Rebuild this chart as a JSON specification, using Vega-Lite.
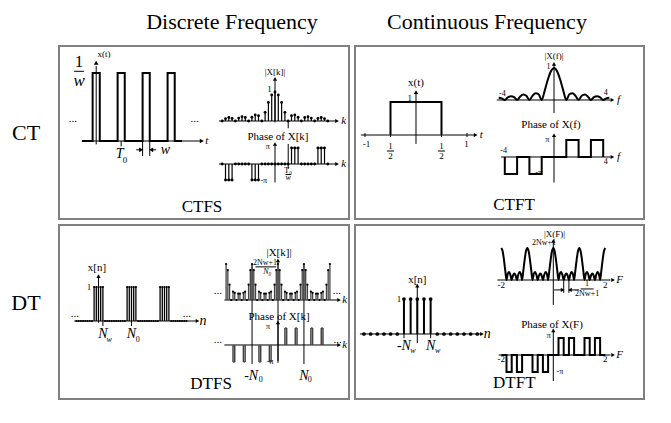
{
"$schema": "https://vega.github.io/schema/vega-lite/v6.json",
"background": "white",
"padding": {"left": 10, "top": 9, "right": 0, "bottom": 0},
"autosize": {"type": "pad"},
"config": {"view": {"stroke": "#808080", "strokeWidth": 2}, "text": {"font": "Liberation Serif"}},
"datasets": {
"A1": [
{"part":"sig","i":0,"t":-2,"val":0},{"part":"sig","i":1,"t":-0.5,"val":0},{"part":"sig","i":2,"t":-0.5,"val":1},{"part":"sig","i":3,"t":0.5,"val":1},{"part":"sig","i":4,"t":0.5,"val":0},{"part":"sig","i":5,"t":3,"val":0},{"part":"sig","i":6,"t":3,"val":1},{"part":"sig","i":7,"t":4,"val":1},{"part":"sig","i":8,"t":4,"val":0},{"part":"sig","i":9,"t":6.5,"val":0},{"part":"sig","i":10,"t":6.5,"val":1},{"part":"sig","i":11,"t":7.5,"val":1},{"part":"sig","i":12,"t":7.5,"val":0},{"part":"sig","i":13,"t":10,"val":0},{"part":"sig","i":14,"t":10,"val":1},{"part":"sig","i":15,"t":11,"val":1},{"part":"sig","i":16,"t":11,"val":0},{"part":"sig","i":17,"t":12,"val":0},
{"part":"seg","t":-2,"t2":14.6,"val":0,"val2":0},
{"part":"seg","t":0,"t2":0,"val":-0.05,"val2":1.1},
{"part":"seg","t":-3.1,"t2":-1.7,"val":1.025,"val2":1.025},
{"part":"seg","t":3.5,"t2":3.5,"val":0,"val2":-0.08},
{"part":"seg","t":6.5,"t2":6.5,"val":0,"val2":-0.22},
{"part":"seg","t":7.5,"t2":7.5,"val":0,"val2":-0.22},
{"part":"seg","t":5.6,"t2":6.3,"val":-0.13,"val2":-0.13},
{"part":"seg","t":7.7,"t2":8.4,"val":-0.13,"val2":-0.13},
{"part":"arrowR","t":14.8,"val":0},{"part":"arrowR","t":6.3,"val":-0.13},{"part":"arrowL","t":7.7,"val":-0.13},{"part":"arrowU","t":0,"val":1.15},
{"part":"txt","t":19.02,"val":1.75,"label":"Discrete Frequency","sty":"head"},
{"part":"txt","t":-9.83,"val":0.118,"label":"CT","sty":"head"},
{"part":"txt","t":-2.4,"val":1.165,"label":"1","sty":"big"},
{"part":"txt","t":-3.25,"val":0.32,"label":"...","sty":"lab"},
{"part":"txt","t":13.8,"val":0.32,"label":"...","sty":"lab"},
{"part":"txt","t":1.1,"val":1.28,"label":"x(t)","sty":"sm"},
{"part":"txt","t":14.82,"val":-0.97,"label":"CTFS","sty":"big"},
{"part":"txt","t":4.05,"val":-0.28,"label":"0","sty":"sm"},
{"part":"itxt","t":-2.4,"val":0.875,"label":"w","sty":"big"},
{"part":"itxt","t":3.3,"val":-0.19,"label":"T","sty":"md"},
{"part":"itxt","t":9.7,"val":-0.13,"label":"w","sty":"md"},
{"part":"itxt","t":15.5,"val":0,"label":"t","sty":"lab"}
],
"A2": [
{"part":"stem","t":-16,"val":0},{"part":"stem","t":-15,"val":0.08},{"part":"stem","t":-14,"val":0.12},{"part":"stem","t":-13,"val":0.09},{"part":"stem","t":-12,"val":0},{"part":"stem","t":-11,"val":0.1},{"part":"stem","t":-10,"val":0.15},{"part":"stem","t":-9,"val":0.12},{"part":"stem","t":-8,"val":0},{"part":"stem","t":-7,"val":0.13},{"part":"stem","t":-6,"val":0.21},{"part":"stem","t":-5,"val":0.18},{"part":"stem","t":-4,"val":0},{"part":"stem","t":-3,"val":0.3},{"part":"stem","t":-2,"val":0.64},{"part":"stem","t":-1,"val":0.9},{"part":"stem","t":0,"val":1},{"part":"stem","t":1,"val":0.9},{"part":"stem","t":2,"val":0.64},{"part":"stem","t":3,"val":0.3},{"part":"stem","t":4,"val":0},{"part":"stem","t":5,"val":0.18},{"part":"stem","t":6,"val":0.21},{"part":"stem","t":7,"val":0.13},{"part":"stem","t":8,"val":0},{"part":"stem","t":9,"val":0.12},{"part":"stem","t":10,"val":0.15},{"part":"stem","t":11,"val":0.1},{"part":"stem","t":12,"val":0},{"part":"stem","t":13,"val":0.09},{"part":"stem","t":14,"val":0.12},{"part":"stem","t":15,"val":0.08},{"part":"stem","t":16,"val":0},
{"part":"seg","t":-17,"t2":18.5,"val":0,"val2":0},
{"part":"seg","t":0,"t2":0,"val":-0.05,"val2":1.4},
{"part":"seg","t":4,"t2":4,"val":0,"val2":-0.25},
{"part":"arrowR","t":18.8,"val":0},{"part":"arrowU","t":0,"val":1.45},
{"part":"txt","t":0,"val":1.68,"label":"|X[k]|","sty":"sm"},
{"part":"txt","t":-1.7,"val":1.1,"label":"1","sty":"sm"},
{"part":"itxt","t":20.8,"val":0,"label":"k","sty":"lab"}
],
"A3": [
{"part":"stem","t":-16,"val":0},{"part":"stem","t":-15,"val":-1},{"part":"stem","t":-14,"val":-1},{"part":"stem","t":-13,"val":-1},{"part":"stem","t":-12,"val":0},{"part":"stem","t":-11,"val":0},{"part":"stem","t":-10,"val":0},{"part":"stem","t":-9,"val":0},{"part":"stem","t":-8,"val":0},{"part":"stem","t":-7,"val":-1},{"part":"stem","t":-6,"val":-1},{"part":"stem","t":-5,"val":-1},{"part":"stem","t":-4,"val":0},{"part":"stem","t":-3,"val":0},{"part":"stem","t":-2,"val":0},{"part":"stem","t":-1,"val":0},{"part":"stem","t":0,"val":0},{"part":"stem","t":1,"val":0},{"part":"stem","t":2,"val":0},{"part":"stem","t":3,"val":0},{"part":"stem","t":4,"val":0},{"part":"stem","t":5,"val":1},{"part":"stem","t":6,"val":1},{"part":"stem","t":7,"val":1},{"part":"stem","t":8,"val":0},{"part":"stem","t":9,"val":0},{"part":"stem","t":10,"val":0},{"part":"stem","t":11,"val":0},{"part":"stem","t":12,"val":0},{"part":"stem","t":13,"val":1},{"part":"stem","t":14,"val":1},{"part":"stem","t":15,"val":1},{"part":"stem","t":16,"val":0},
{"part":"seg","t":-17,"t2":18.5,"val":0,"val2":0},
{"part":"seg","t":0,"t2":0,"val":-1.15,"val2":1.2},
{"part":"seg","t":4,"t2":4,"val":-0.3,"val2":1.25},
{"part":"seg","t":5,"t2":7,"val":1,"val2":1},{"part":"seg","t":13,"t2":15,"val":1,"val2":1},{"part":"seg","t":-7,"t2":-5,"val":-1,"val2":-1},{"part":"seg","t":-15,"t2":-13,"val":-1,"val2":-1},
{"part":"seg","t":3.2,"t2":4.8,"val":-0.66,"val2":-0.66},
{"part":"arrowR","t":18.8,"val":0},{"part":"arrowU","t":0,"val":1.25},
{"part":"txt","t":0.9,"val":1.69,"label":"Phase of X[k]","sty":"lab"},
{"part":"txt","t":-2.2,"val":1.06,"label":"π","sty":"xs"},
{"part":"txt","t":-3.4,"val":-1.06,"label":"-π","sty":"xs"},
{"part":"txt","t":4,"val":-0.42,"label":"T₀","sty":"xs"},
{"part":"itxt","t":4,"val":-0.9,"label":"w","sty":"xs"},
{"part":"itxt","t":20.8,"val":0,"label":"k","sty":"lab"}
],
"B1": [
{"part":"sig","i":0,"t":-0.5,"val":0},{"part":"sig","i":1,"t":-0.5,"val":1},{"part":"sig","i":2,"t":0.5,"val":1},{"part":"sig","i":3,"t":0.5,"val":0},
{"part":"seg","t":-1.08,"t2":1.15,"val":0,"val2":0},
{"part":"seg","t":0,"t2":0,"val":-0.27,"val2":1.28},
{"part":"seg","t":-1,"t2":-1,"val":0.06,"val2":-0.06},{"part":"seg","t":-0.5,"t2":-0.5,"val":0.06,"val2":-0.06},{"part":"seg","t":0.5,"t2":0.5,"val":0.06,"val2":-0.06},{"part":"seg","t":1,"t2":1,"val":0.06,"val2":-0.06},
{"part":"seg","t":-0.57,"t2":-0.43,"val":-0.485,"val2":-0.485},{"part":"seg","t":0.43,"t2":0.57,"val":-0.485,"val2":-0.485},
{"part":"arrowR","t":1.17,"val":0},{"part":"arrowU","t":0,"val":1.3},
{"part":"txt","t":0,"val":1.58,"label":"x(t)","sty":"lab"},
{"part":"txt","t":-0.12,"val":1.12,"label":"1","sty":"sm"},
{"part":"txt","t":-0.97,"val":-0.26,"label":"-1","sty":"sm"},
{"part":"txt","t":0.99,"val":-0.26,"label":"1","sty":"sm"},
{"part":"txt","t":-0.5,"val":-0.33,"label":"1","sty":"sm"},
{"part":"txt","t":-0.5,"val":-0.65,"label":"2","sty":"sm"},
{"part":"txt","t":0.5,"val":-0.33,"label":"1","sty":"sm"},
{"part":"txt","t":0.5,"val":-0.65,"label":"2","sty":"sm"},
{"part":"txt","t":1.392,"val":3.424,"label":"Continuous Frequency","sty":"head"},
{"part":"itxt","t":1.28,"val":0,"label":"t","sty":"lab"}
],
"B2": [
{"part":"crv","t":-4.5,"val":0.07},{"part":"crv","t":-4.25,"val":0.05},{"part":"crv","t":-4,"val":0},{"part":"crv","t":-3.75,"val":0.08},{"part":"crv","t":-3.5,"val":0.12},{"part":"crv","t":-3.25,"val":0.09},{"part":"crv","t":-3,"val":0},{"part":"crv","t":-2.75,"val":0.11},{"part":"crv","t":-2.5,"val":0.17},{"part":"crv","t":-2.25,"val":0.13},{"part":"crv","t":-2,"val":0},{"part":"crv","t":-1.75,"val":0.13},{"part":"crv","t":-1.5,"val":0.21},{"part":"crv","t":-1.25,"val":0.18},{"part":"crv","t":-1,"val":0},{"part":"crv","t":-0.75,"val":0.3},{"part":"crv","t":-0.5,"val":0.64},{"part":"crv","t":-0.25,"val":0.9},{"part":"crv","t":0,"val":1},{"part":"crv","t":0.25,"val":0.9},{"part":"crv","t":0.5,"val":0.64},{"part":"crv","t":0.75,"val":0.3},{"part":"crv","t":1,"val":0},{"part":"crv","t":1.25,"val":0.18},{"part":"crv","t":1.5,"val":0.21},{"part":"crv","t":1.75,"val":0.13},{"part":"crv","t":2,"val":0},{"part":"crv","t":2.25,"val":0.13},{"part":"crv","t":2.5,"val":0.17},{"part":"crv","t":2.75,"val":0.11},{"part":"crv","t":3,"val":0},{"part":"crv","t":3.25,"val":0.09},{"part":"crv","t":3.5,"val":0.12},{"part":"crv","t":3.75,"val":0.08},{"part":"crv","t":4,"val":0},{"part":"crv","t":4.25,"val":0.05},{"part":"crv","t":4.5,"val":0.07},
{"part":"seg","t":-4.65,"t2":4.6,"val":0,"val2":0},
{"part":"seg","t":0,"t2":0,"val":-0.41,"val2":1.1},
{"part":"arrowR","t":4.75,"val":0},{"part":"arrowU","t":0,"val":1.13},
{"part":"txt","t":0,"val":1.375,"label":"|X(f)|","sty":"sm"},
{"part":"txt","t":-0.45,"val":1.04,"label":"1","sty":"xs"},
{"part":"txt","t":-4.2,"val":0.19,"label":"-4","sty":"xs"},
{"part":"txt","t":4.2,"val":0.22,"label":"4","sty":"xs"},
{"part":"itxt","t":5.25,"val":0,"label":"f","sty":"lab"}
],
"B3": [
{"part":"sig","i":0,"t":-4,"val":0},{"part":"sig","i":1,"t":-4,"val":-1},{"part":"sig","i":2,"t":-3,"val":-1},{"part":"sig","i":3,"t":-3,"val":0},{"part":"sig","i":4,"t":-2,"val":0},{"part":"sig","i":5,"t":-2,"val":-1},{"part":"sig","i":6,"t":-1,"val":-1},{"part":"sig","i":7,"t":-1,"val":0},{"part":"sig","i":8,"t":1,"val":0},{"part":"sig","i":9,"t":1,"val":1},{"part":"sig","i":10,"t":2,"val":1},{"part":"sig","i":11,"t":2,"val":0},{"part":"sig","i":12,"t":3,"val":0},{"part":"sig","i":13,"t":3,"val":1},{"part":"sig","i":14,"t":4,"val":1},{"part":"sig","i":15,"t":4,"val":0},
{"part":"seg","t":-4.3,"t2":4.6,"val":0,"val2":0},
{"part":"seg","t":0,"t2":0,"val":-1.5,"val2":1.25},
{"part":"arrowR","t":4.75,"val":0},{"part":"arrowU","t":0,"val":1.28},
{"part":"txt","t":-0.25,"val":1.88,"label":"Phase of X(f)","sty":"lab"},
{"part":"txt","t":-0.55,"val":1.0,"label":"π","sty":"xs"},
{"part":"txt","t":-1.25,"val":-0.97,"label":"-π","sty":"xs"},
{"part":"txt","t":-4.1,"val":0.38,"label":"-4","sty":"xs"},
{"part":"txt","t":4.2,"val":-0.32,"label":"4","sty":"xs"},
{"part":"txt","t":-3.25,"val":-2.82,"label":"CTFT","sty":"big"},
{"part":"itxt","t":5.25,"val":0,"label":"f","sty":"lab"}
],
"C1": [
{"part":"stem","t":-10,"val":0},{"part":"stem","t":-9,"val":0},{"part":"stem","t":-8,"val":0},{"part":"stem","t":-7,"val":0},{"part":"stem","t":-6,"val":0},{"part":"stem","t":-5,"val":0},{"part":"stem","t":-4,"val":0},{"part":"stem","t":-3,"val":0},{"part":"stem","t":-2,"val":1},{"part":"stem","t":-1,"val":1},{"part":"stem","t":0,"val":1},{"part":"stem","t":1,"val":1},{"part":"stem","t":2,"val":1},{"part":"stem","t":3,"val":0},{"part":"stem","t":4,"val":0},{"part":"stem","t":5,"val":0},{"part":"stem","t":6,"val":0},{"part":"stem","t":7,"val":0},{"part":"stem","t":8,"val":0},{"part":"stem","t":9,"val":0},{"part":"stem","t":10,"val":0},{"part":"stem","t":11,"val":0},{"part":"stem","t":12,"val":0},{"part":"stem","t":13,"val":1},{"part":"stem","t":14,"val":1},{"part":"stem","t":15,"val":1},{"part":"stem","t":16,"val":1},{"part":"stem","t":17,"val":1},{"part":"stem","t":18,"val":0},{"part":"stem","t":19,"val":0},{"part":"stem","t":20,"val":0},{"part":"stem","t":21,"val":0},{"part":"stem","t":22,"val":0},{"part":"stem","t":23,"val":0},{"part":"stem","t":24,"val":0},{"part":"stem","t":25,"val":0},{"part":"stem","t":26,"val":0},{"part":"stem","t":27,"val":0},{"part":"stem","t":28,"val":1},{"part":"stem","t":29,"val":1},{"part":"stem","t":30,"val":1},{"part":"stem","t":31,"val":1},{"part":"stem","t":32,"val":1},{"part":"stem","t":33,"val":0},{"part":"stem","t":34,"val":0},{"part":"stem","t":35,"val":0},{"part":"stem","t":36,"val":0},{"part":"stem","t":37,"val":0},{"part":"stem","t":38,"val":0},{"part":"stem","t":39,"val":0},{"part":"stem","t":40,"val":0},
{"part":"seg","t":-11,"t2":44.5,"val":0,"val2":0},
{"part":"seg","t":0,"t2":0,"val":-0.05,"val2":1.3},
{"part":"seg","t":2,"t2":2,"val":0,"val2":-0.15},
{"part":"seg","t":15,"t2":15,"val":0,"val2":-0.15},
{"part":"arrowR","t":45,"val":0},{"part":"arrowU","t":0,"val":1.32},
{"part":"txt","t":-0.7,"val":1.56,"label":"x[n]","sty":"lab"},
{"part":"txt","t":-4.3,"val":1.0,"label":"1","sty":"sm"},
{"part":"txt","t":-10.7,"val":0.2,"label":"...","sty":"lab"},
{"part":"txt","t":40.2,"val":0.2,"label":"...","sty":"lab"},
{"part":"txt","t":-32.95,"val":0.53,"label":"DT","sty":"head"},
{"part":"txt","t":17.8,"val":-0.55,"label":"0","sty":"xs"},
{"part":"itxt","t":4.8,"val":-0.55,"label":"w","sty":"xs"},
{"part":"itxt","t":2,"val":-0.38,"label":"N","sty":"md"},
{"part":"itxt","t":15,"val":-0.38,"label":"N","sty":"md"},
{"part":"itxt","t":47.5,"val":0,"label":"n","sty":"md"}
],
"C2": [
{"part":"stem","t":-30,"val":1},{"part":"stem","t":-29,"val":0.833},{"part":"stem","t":-28,"val":0.426},{"part":"stem","t":-27,"val":0},{"part":"stem","t":-26,"val":0.233},{"part":"stem","t":-25,"val":0.2},{"part":"stem","t":-24,"val":0},{"part":"stem","t":-23,"val":0.174},{"part":"stem","t":-22,"val":0.174},{"part":"stem","t":-21,"val":0},{"part":"stem","t":-20,"val":0.2},{"part":"stem","t":-19,"val":0.233},{"part":"stem","t":-18,"val":0},{"part":"stem","t":-17,"val":0.426},{"part":"stem","t":-16,"val":0.833},{"part":"stem","t":-15,"val":1},{"part":"stem","t":-14,"val":0.833},{"part":"stem","t":-13,"val":0.426},{"part":"stem","t":-12,"val":0},{"part":"stem","t":-11,"val":0.233},{"part":"stem","t":-10,"val":0.2},{"part":"stem","t":-9,"val":0},{"part":"stem","t":-8,"val":0.174},{"part":"stem","t":-7,"val":0.174},{"part":"stem","t":-6,"val":0},{"part":"stem","t":-5,"val":0.2},{"part":"stem","t":-4,"val":0.233},{"part":"stem","t":-3,"val":0},{"part":"stem","t":-2,"val":0.426},{"part":"stem","t":-1,"val":0.833},{"part":"stem","t":0,"val":1},{"part":"stem","t":1,"val":0.833},{"part":"stem","t":2,"val":0.426},{"part":"stem","t":3,"val":0},{"part":"stem","t":4,"val":0.233},{"part":"stem","t":5,"val":0.2},{"part":"stem","t":6,"val":0},{"part":"stem","t":7,"val":0.174},{"part":"stem","t":8,"val":0.174},{"part":"stem","t":9,"val":0},{"part":"stem","t":10,"val":0.2},{"part":"stem","t":11,"val":0.233},{"part":"stem","t":12,"val":0},{"part":"stem","t":13,"val":0.426},{"part":"stem","t":14,"val":0.833},{"part":"stem","t":15,"val":1},{"part":"stem","t":16,"val":0.833},{"part":"stem","t":17,"val":0.426},{"part":"stem","t":18,"val":0},{"part":"stem","t":19,"val":0.233},{"part":"stem","t":20,"val":0.2},{"part":"stem","t":21,"val":0},{"part":"stem","t":22,"val":0.174},{"part":"stem","t":23,"val":0.174},{"part":"stem","t":24,"val":0},{"part":"stem","t":25,"val":0.2},{"part":"stem","t":26,"val":0.233},{"part":"stem","t":27,"val":0},{"part":"stem","t":28,"val":0.426},{"part":"stem","t":29,"val":0.833},{"part":"stem","t":30,"val":1},
{"part":"seg","t":-31,"t2":35,"val":0,"val2":0},
{"part":"seg","t":0,"t2":0,"val":-1.69,"val2":1.08},
{"part":"seg","t":-15,"t2":-15,"val":-1.78,"val2":1.0},
{"part":"seg","t":15,"t2":15,"val":-1.78,"val2":1.0},
{"part":"seg","t":-13,"t2":-1,"val":0.92,"val2":0.92},
{"part":"arrowR","t":35.3,"val":0},{"part":"arrowU","t":0,"val":1.1},
{"part":"txt","t":0.6,"val":1.31,"label":"|X[k]|","sty":"lab"},
{"part":"txt","t":-7.5,"val":1.03,"label":"2Nw+1","sty":"xs"},
{"part":"txt","t":-34.7,"val":0.25,"label":"...","sty":"lab"},
{"part":"txt","t":34.1,"val":0.25,"label":"...","sty":"lab"},
{"part":"itxt","t":-6.2,"val":0.78,"label":"N₀","sty":"xs"},
{"part":"itxt","t":38.5,"val":0,"label":"k","sty":"lab"}
],
"C3": [
{"part":"stem","t":-26,"val":-1},{"part":"stem","t":-25,"val":-1},{"part":"stem","t":-20,"val":-1},{"part":"stem","t":-19,"val":-1},{"part":"stem","t":-11,"val":-1},{"part":"stem","t":-10,"val":-1},{"part":"stem","t":-5,"val":-1},{"part":"stem","t":-4,"val":-1},{"part":"stem","t":4,"val":1},{"part":"stem","t":5,"val":1},{"part":"stem","t":10,"val":1},{"part":"stem","t":11,"val":1},{"part":"stem","t":19,"val":1},{"part":"stem","t":20,"val":1},{"part":"stem","t":25,"val":1},{"part":"stem","t":26,"val":1},
{"part":"seg","t":-31,"t2":35,"val":0,"val2":0},
{"part":"seg","t":0,"t2":0,"val":-1.05,"val2":1.3},
{"part":"seg","t":4,"t2":5,"val":1,"val2":1},{"part":"seg","t":10,"t2":11,"val":1,"val2":1},{"part":"seg","t":19,"t2":20,"val":1,"val2":1},{"part":"seg","t":25,"t2":26,"val":1,"val2":1},
{"part":"seg","t":-5,"t2":-4,"val":-1,"val2":-1},{"part":"seg","t":-11,"t2":-10,"val":-1,"val2":-1},{"part":"seg","t":-20,"t2":-19,"val":-1,"val2":-1},{"part":"seg","t":-26,"t2":-25,"val":-1,"val2":-1},
{"part":"arrowR","t":35.3,"val":0},{"part":"arrowU","t":0,"val":1.33},
{"part":"txt","t":0.6,"val":1.65,"label":"Phase of X[k]","sty":"lab"},
{"part":"txt","t":-5.8,"val":1.06,"label":"π","sty":"xs"},
{"part":"txt","t":-4.5,"val":-1.0,"label":"-π","sty":"xs"},
{"part":"txt","t":-34.7,"val":0.3,"label":"...","sty":"lab"},
{"part":"txt","t":34.5,"val":0.3,"label":"...","sty":"lab"},
{"part":"txt","t":-38.7,"val":-2.29,"label":"DTFS","sty":"big"},
{"part":"txt","t":-9.9,"val":-2.05,"label":"0","sty":"xs"},
{"part":"txt","t":18.3,"val":-2.05,"label":"0","sty":"xs"},
{"part":"itxt","t":-15.5,"val":-1.8,"label":"-N","sty":"md"},
{"part":"itxt","t":15,"val":-1.8,"label":"N","sty":"md"},
{"part":"itxt","t":38.5,"val":0,"label":"k","sty":"lab"}
],
"D1": [
{"part":"stem","t":-8,"val":0},{"part":"stem","t":-7,"val":0},{"part":"stem","t":-6,"val":0},{"part":"stem","t":-5,"val":0},{"part":"stem","t":-4,"val":0},{"part":"stem","t":-3,"val":0},{"part":"stem","t":-2,"val":1},{"part":"stem","t":-1,"val":1},{"part":"stem","t":0,"val":1},{"part":"stem","t":1,"val":1},{"part":"stem","t":2,"val":1},{"part":"stem","t":3,"val":0},{"part":"stem","t":4,"val":0},{"part":"stem","t":5,"val":0},{"part":"stem","t":6,"val":0},{"part":"stem","t":7,"val":0},{"part":"stem","t":8,"val":0},{"part":"stem","t":9,"val":0},
{"part":"seg","t":-8.6,"t2":9.5,"val":0,"val2":0},
{"part":"seg","t":0,"t2":0,"val":-0.26,"val2":1.35},
{"part":"seg","t":-2,"t2":-2,"val":0,"val2":-0.12},
{"part":"seg","t":2,"t2":2,"val":0,"val2":-0.12},
{"part":"arrowR","t":9.7,"val":0},{"part":"arrowU","t":0,"val":1.38},
{"part":"txt","t":0,"val":1.54,"label":"x[n]","sty":"lab"},
{"part":"txt","t":-2.75,"val":1.0,"label":"1","sty":"sm"},
{"part":"itxt","t":10.5,"val":0,"label":"n","sty":"md"},
{"part":"itxt","t":-2.0,"val":-0.34,"label":"-N","sty":"md"},
{"part":"itxt","t":-0.65,"val":-0.48,"label":"w","sty":"xs"},
{"part":"itxt","t":2.0,"val":-0.34,"label":"N","sty":"md"},
{"part":"itxt","t":3.05,"val":-0.48,"label":"w","sty":"xs"}
],
"D2": [
{"part":"crv","t":-2,"val":1},{"part":"crv","t":-1.95,"val":0.904},{"part":"crv","t":-1.9,"val":0.647},{"part":"crv","t":-1.85,"val":0.3115},{"part":"crv","t":-1.8,"val":0},{"part":"crv","t":-1.75,"val":0.2},{"part":"crv","t":-1.7,"val":0.247},{"part":"crv","t":-1.65,"val":0.1587},{"part":"crv","t":-1.6,"val":0},{"part":"crv","t":-1.55,"val":0.1432},{"part":"crv","t":-1.5,"val":0.2},{"part":"crv","t":-1.45,"val":0.1432},{"part":"crv","t":-1.4,"val":0},{"part":"crv","t":-1.35,"val":0.1587},{"part":"crv","t":-1.3,"val":0.247},{"part":"crv","t":-1.25,"val":0.2},{"part":"crv","t":-1.2,"val":0},{"part":"crv","t":-1.15,"val":0.3115},{"part":"crv","t":-1.1,"val":0.647},{"part":"crv","t":-1.05,"val":0.904},
{"part":"crv","t":-1,"val":1},{"part":"crv","t":-0.95,"val":0.904},{"part":"crv","t":-0.9,"val":0.647},{"part":"crv","t":-0.85,"val":0.3115},{"part":"crv","t":-0.8,"val":0},{"part":"crv","t":-0.75,"val":0.2},{"part":"crv","t":-0.7,"val":0.247},{"part":"crv","t":-0.65,"val":0.1587},{"part":"crv","t":-0.6,"val":0},{"part":"crv","t":-0.55,"val":0.1432},{"part":"crv","t":-0.5,"val":0.2},{"part":"crv","t":-0.45,"val":0.1432},{"part":"crv","t":-0.4,"val":0},{"part":"crv","t":-0.35,"val":0.1587},{"part":"crv","t":-0.3,"val":0.247},{"part":"crv","t":-0.25,"val":0.2},{"part":"crv","t":-0.2,"val":0},{"part":"crv","t":-0.15,"val":0.3115},{"part":"crv","t":-0.1,"val":0.647},{"part":"crv","t":-0.05,"val":0.904},
{"part":"crv","t":0,"val":1},{"part":"crv","t":0.05,"val":0.904},{"part":"crv","t":0.1,"val":0.647},{"part":"crv","t":0.15,"val":0.3115},{"part":"crv","t":0.2,"val":0},{"part":"crv","t":0.25,"val":0.2},{"part":"crv","t":0.3,"val":0.247},{"part":"crv","t":0.35,"val":0.1587},{"part":"crv","t":0.4,"val":0},{"part":"crv","t":0.45,"val":0.1432},{"part":"crv","t":0.5,"val":0.2},{"part":"crv","t":0.55,"val":0.1432},{"part":"crv","t":0.6,"val":0},{"part":"crv","t":0.65,"val":0.1587},{"part":"crv","t":0.7,"val":0.247},{"part":"crv","t":0.75,"val":0.2},{"part":"crv","t":0.8,"val":0},{"part":"crv","t":0.85,"val":0.3115},{"part":"crv","t":0.9,"val":0.647},{"part":"crv","t":0.95,"val":0.904},
{"part":"crv","t":1,"val":1},{"part":"crv","t":1.05,"val":0.904},{"part":"crv","t":1.1,"val":0.647},{"part":"crv","t":1.15,"val":0.3115},{"part":"crv","t":1.2,"val":0},{"part":"crv","t":1.25,"val":0.2},{"part":"crv","t":1.3,"val":0.247},{"part":"crv","t":1.35,"val":0.1587},{"part":"crv","t":1.4,"val":0},{"part":"crv","t":1.45,"val":0.1432},{"part":"crv","t":1.5,"val":0.2},{"part":"crv","t":1.55,"val":0.1432},{"part":"crv","t":1.6,"val":0},{"part":"crv","t":1.65,"val":0.1587},{"part":"crv","t":1.7,"val":0.247},{"part":"crv","t":1.75,"val":0.2},{"part":"crv","t":1.8,"val":0},{"part":"crv","t":1.85,"val":0.3115},{"part":"crv","t":1.9,"val":0.647},{"part":"crv","t":1.95,"val":0.904},{"part":"crv","t":2,"val":1},
{"part":"seg","t":-2.15,"t2":2.2,"val":0,"val2":0},
{"part":"seg","t":0,"t2":0,"val":-0.78,"val2":1.18},
{"part":"seg","t":0.4,"t2":0.4,"val":0,"val2":-0.4},
{"part":"seg","t":0.6,"t2":0.6,"val":0,"val2":-0.4},
{"part":"seg","t":0.03,"t2":0.36,"val":-0.31,"val2":-0.31},
{"part":"seg","t":0.64,"t2":0.99,"val":-0.31,"val2":-0.31},
{"part":"seg","t":1.05,"t2":1.55,"val":-0.28,"val2":-0.28},
{"part":"arrowR","t":2.3,"val":0},{"part":"arrowR","t":0.36,"val":-0.31},{"part":"arrowL","t":0.64,"val":-0.31},{"part":"arrowU","t":0,"val":1.22},
{"part":"txt","t":0.05,"val":1.44,"label":"|X(F)|","sty":"sm"},
{"part":"txt","t":-0.36,"val":1.16,"label":"2Nw+1","sty":"xs"},
{"part":"txt","t":-2.0,"val":-0.16,"label":"-2","sty":"sm"},
{"part":"txt","t":2.0,"val":-0.16,"label":"2","sty":"sm"},
{"part":"txt","t":1.3,"val":-0.14,"label":"1","sty":"xs"},
{"part":"txt","t":1.3,"val":-0.43,"label":"2Nw+1","sty":"xs"},
{"part":"itxt","t":2.55,"val":0,"label":"F","sty":"lab"}
],
"D3": [
{"part":"sig","i":0,"t":-2,"val":0},{"part":"sig","i":1,"t":-1.8,"val":0},{"part":"sig","i":2,"t":-1.8,"val":-1},{"part":"sig","i":3,"t":-1.6,"val":-1},{"part":"sig","i":4,"t":-1.6,"val":0},{"part":"sig","i":5,"t":-1.4,"val":0},{"part":"sig","i":6,"t":-1.4,"val":-1},{"part":"sig","i":7,"t":-1.2,"val":-1},{"part":"sig","i":8,"t":-1.2,"val":0},{"part":"sig","i":9,"t":-0.8,"val":0},{"part":"sig","i":10,"t":-0.8,"val":-1},{"part":"sig","i":11,"t":-0.6,"val":-1},{"part":"sig","i":12,"t":-0.6,"val":0},{"part":"sig","i":13,"t":-0.4,"val":0},{"part":"sig","i":14,"t":-0.4,"val":-1},{"part":"sig","i":15,"t":-0.2,"val":-1},{"part":"sig","i":16,"t":-0.2,"val":0},{"part":"sig","i":17,"t":0.2,"val":0},{"part":"sig","i":18,"t":0.2,"val":1},{"part":"sig","i":19,"t":0.4,"val":1},{"part":"sig","i":20,"t":0.4,"val":0},{"part":"sig","i":21,"t":0.6,"val":0},{"part":"sig","i":22,"t":0.6,"val":1},{"part":"sig","i":23,"t":0.8,"val":1},{"part":"sig","i":24,"t":0.8,"val":0},{"part":"sig","i":25,"t":1.2,"val":0},{"part":"sig","i":26,"t":1.2,"val":1},{"part":"sig","i":27,"t":1.4,"val":1},{"part":"sig","i":28,"t":1.4,"val":0},{"part":"sig","i":29,"t":1.6,"val":0},{"part":"sig","i":30,"t":1.6,"val":1},{"part":"sig","i":31,"t":1.8,"val":1},{"part":"sig","i":32,"t":1.8,"val":0},{"part":"sig","i":33,"t":2,"val":0},
{"part":"seg","t":-2.1,"t2":2.2,"val":0,"val2":0},
{"part":"seg","t":0,"t2":0,"val":-1.53,"val2":1.4},
{"part":"arrowR","t":2.3,"val":0},{"part":"arrowU","t":0,"val":1.45},
{"part":"txt","t":-0.05,"val":1.76,"label":"Phase of X(F)","sty":"lab"},
{"part":"txt","t":-0.17,"val":1.12,"label":"π","sty":"xs"},
{"part":"txt","t":0.25,"val":-1.0,"label":"-π","sty":"xs"},
{"part":"txt","t":-2.0,"val":-0.26,"label":"-2","sty":"sm"},
{"part":"txt","t":2.0,"val":-0.26,"label":"2","sty":"sm"},
{"part":"txt","t":-1.5,"val":-1.65,"label":"DTFT","sty":"big"},
{"part":"itxt","t":2.55,"val":0,"label":"F","sty":"lab"}
]
},
"vconcat": [
{"hconcat": [
{"width": 290, "height": 173, "resolve": {"scale": {"x": "independent", "y": "independent"}}, "layer": [
{"data": {"name": "A1"},
"encoding": {"x": {"field": "t", "type": "quantitative", "scale": {"domain": [-5.21, 35.41], "nice": false, "zero": false}, "axis": null},
"y": {"field": "val", "type": "quantitative", "scale": {"domain": [-1.147, 1.397], "nice": false, "zero": false}, "axis": null}},
"layer": [
{"transform": [{"filter": "datum.part==='seg'"}], "mark": {"type": "rule", "color": "black", "strokeWidth": 1}, "encoding": {"x2": {"field": "t2"}, "y2": {"field": "val2"}}},
{"transform": [{"filter": "datum.part==='sig'"}], "mark": {"type": "line", "color": "black", "strokeWidth": 2}, "encoding": {"order": {"field": "i", "type": "quantitative"}}},
{"transform": [{"filter": "datum.part==='arrowR'||datum.part==='arrowL'||datum.part==='arrowU'"}], "mark": {"type": "point", "filled": true, "color": "black", "opacity": 1, "size": 22}, "encoding": {"shape": {"field": "part", "type": "nominal", "scale": {"domain": ["arrowR", "arrowL", "arrowU"], "range": ["triangle-right", "triangle-left", "triangle-up"]}, "legend": null}}},
{"transform": [{"filter": "datum.part==='txt'"}], "mark": {"type": "text", "font": "Liberation Serif", "color": "black"}, "encoding": {"text": {"field": "label"}, "size": {"field": "sty", "type": "nominal", "scale": {"type": "ordinal", "domain": ["xs", "sm", "lab", "md", "big", "head"], "range": [8, 9, 11, 14, 17, 22]}, "legend": null}}},
{"transform": [{"filter": "datum.part==='itxt'"}], "mark": {"type": "text", "font": "Liberation Serif", "fontStyle": "italic", "color": "black"}, "encoding": {"text": {"field": "label"}, "size": {"field": "sty", "type": "nominal", "scale": {"type": "ordinal", "domain": ["xs", "sm", "lab", "md", "big", "head"], "range": [8, 9, 11, 14, 17, 22]}, "legend": null}}}
]},
{"data": {"name": "A2"},
"encoding": {"x": {"field": "t", "type": "quantitative", "scale": {"domain": [-65.45, 22.42], "nice": false, "zero": false}, "axis": null},
"y": {"field": "val", "type": "quantitative", "scale": {"domain": [-3.379, 2.586], "nice": false, "zero": false}, "axis": null}},
"layer": [
{"transform": [{"filter": "datum.part==='seg'"}], "mark": {"type": "rule", "color": "black", "strokeWidth": 1}, "encoding": {"x2": {"field": "t2"}, "y2": {"field": "val2"}}},
{"transform": [{"filter": "datum.part==='stem'"}], "mark": {"type": "rule", "color": "black", "strokeWidth": 1.2}, "encoding": {"y2": {"datum": 0}}},
{"transform": [{"filter": "datum.part==='stem'"}], "mark": {"type": "point", "filled": true, "color": "black", "opacity": 1, "size": 8}},
{"transform": [{"filter": "datum.part==='arrowR'||datum.part==='arrowL'||datum.part==='arrowU'"}], "mark": {"type": "point", "filled": true, "color": "black", "opacity": 1, "size": 18}, "encoding": {"shape": {"field": "part", "type": "nominal", "scale": {"domain": ["arrowR", "arrowL", "arrowU"], "range": ["triangle-right", "triangle-left", "triangle-up"]}, "legend": null}}},
{"transform": [{"filter": "datum.part==='txt'"}], "mark": {"type": "text", "font": "Liberation Serif", "color": "black"}, "encoding": {"text": {"field": "label"}, "size": {"field": "sty", "type": "nominal", "scale": {"type": "ordinal", "domain": ["xs", "sm", "lab", "md", "big", "head"], "range": [8, 9, 11, 14, 17, 22]}, "legend": null}}},
{"transform": [{"filter": "datum.part==='itxt'"}], "mark": {"type": "text", "font": "Liberation Serif", "fontStyle": "italic", "color": "black"}, "encoding": {"text": {"field": "label"}, "size": {"field": "sty", "type": "nominal", "scale": {"type": "ordinal", "domain": ["xs", "sm", "lab", "md", "big", "head"], "range": [8, 9, 11, 14, 17, 22]}, "legend": null}}}
]},
{"data": {"name": "A3"},
"encoding": {"x": {"field": "t", "type": "quantitative", "scale": {"domain": [-65.45, 22.42], "nice": false, "zero": false}, "axis": null},
"y": {"field": "val", "type": "quantitative", "scale": {"domain": [-3.4375, 7.375], "nice": false, "zero": false}, "axis": null}},
"layer": [
{"transform": [{"filter": "datum.part==='seg'"}], "mark": {"type": "rule", "color": "black", "strokeWidth": 1}, "encoding": {"x2": {"field": "t2"}, "y2": {"field": "val2"}}},
{"transform": [{"filter": "datum.part==='stem'"}], "mark": {"type": "rule", "color": "black", "strokeWidth": 1.2}, "encoding": {"y2": {"datum": 0}}},
{"transform": [{"filter": "datum.part==='stem'"}], "mark": {"type": "point", "filled": true, "color": "black", "opacity": 1, "size": 8}},
{"transform": [{"filter": "datum.part==='arrowR'||datum.part==='arrowL'||datum.part==='arrowU'"}], "mark": {"type": "point", "filled": true, "color": "black", "opacity": 1, "size": 18}, "encoding": {"shape": {"field": "part", "type": "nominal", "scale": {"domain": ["arrowR", "arrowL", "arrowU"], "range": ["triangle-right", "triangle-left", "triangle-up"]}, "legend": null}}},
{"transform": [{"filter": "datum.part==='txt'"}], "mark": {"type": "text", "font": "Liberation Serif", "color": "black"}, "encoding": {"text": {"field": "label"}, "size": {"field": "sty", "type": "nominal", "scale": {"type": "ordinal", "domain": ["xs", "sm", "lab", "md", "big", "head"], "range": [8, 9, 11, 14, 17, 22]}, "legend": null}}},
{"transform": [{"filter": "datum.part==='itxt'"}], "mark": {"type": "text", "font": "Liberation Serif", "fontStyle": "italic", "color": "black"}, "encoding": {"text": {"field": "label"}, "size": {"field": "sty", "type": "nominal", "scale": {"type": "ordinal", "domain": ["xs", "sm", "lab", "md", "big", "head"], "range": [8, 9, 11, 14, 17, 22]}, "legend": null}}}
]}
]},
{"width": 289, "height": 173, "resolve": {"scale": {"x": "independent", "y": "independent"}}, "layer": [
{"data": {"name": "B1"},
"encoding": {"x": {"field": "t", "type": "quantitative", "scale": {"domain": [-1.196, 4.471], "nice": false, "zero": false}, "axis": null},
"y": {"field": "val", "type": "quantitative", "scale": {"domain": [-2.545, 2.697], "nice": false, "zero": false}, "axis": null}},
"layer": [
{"transform": [{"filter": "datum.part==='seg'"}], "mark": {"type": "rule", "color": "black", "strokeWidth": 1}, "encoding": {"x2": {"field": "t2"}, "y2": {"field": "val2"}}},
{"transform": [{"filter": "datum.part==='sig'"}], "mark": {"type": "line", "color": "black", "strokeWidth": 2}, "encoding": {"order": {"field": "i", "type": "quantitative"}}},
{"transform": [{"filter": "datum.part==='arrowR'||datum.part==='arrowL'||datum.part==='arrowU'"}], "mark": {"type": "point", "filled": true, "color": "black", "opacity": 1, "size": 18}, "encoding": {"shape": {"field": "part", "type": "nominal", "scale": {"domain": ["arrowR", "arrowL", "arrowU"], "range": ["triangle-right", "triangle-left", "triangle-up"]}, "legend": null}}},
{"transform": [{"filter": "datum.part==='txt'"}], "mark": {"type": "text", "font": "Liberation Serif", "color": "black"}, "encoding": {"text": {"field": "label"}, "size": {"field": "sty", "type": "nominal", "scale": {"type": "ordinal", "domain": ["xs", "sm", "lab", "md", "big", "head"], "range": [8, 9, 11, 14, 17, 22]}, "legend": null}}},
{"transform": [{"filter": "datum.part==='itxt'"}], "mark": {"type": "text", "font": "Liberation Serif", "fontStyle": "italic", "color": "black"}, "encoding": {"text": {"field": "label"}, "size": {"field": "sty", "type": "nominal", "scale": {"type": "ordinal", "domain": ["xs", "sm", "lab", "md", "big", "head"], "range": [8, 9, 11, 14, 17, 22]}, "legend": null}}}
]},
{"data": {"name": "B2"},
"encoding": {"x": {"field": "t", "type": "quantitative", "scale": {"domain": [-16.18, 7.317], "nice": false, "zero": false}, "axis": null},
"y": {"field": "val", "type": "quantitative", "scale": {"domain": [-3.719, 1.6875], "nice": false, "zero": false}, "axis": null}},
"layer": [
{"transform": [{"filter": "datum.part==='seg'"}], "mark": {"type": "rule", "color": "black", "strokeWidth": 1}, "encoding": {"x2": {"field": "t2"}, "y2": {"field": "val2"}}},
{"transform": [{"filter": "datum.part==='crv'"}], "mark": {"type": "line", "color": "black", "strokeWidth": 2, "interpolate": "monotone"}},
{"transform": [{"filter": "datum.part==='arrowR'||datum.part==='arrowL'||datum.part==='arrowU'"}], "mark": {"type": "point", "filled": true, "color": "black", "opacity": 1, "size": 18}, "encoding": {"shape": {"field": "part", "type": "nominal", "scale": {"domain": ["arrowR", "arrowL", "arrowU"], "range": ["triangle-right", "triangle-left", "triangle-up"]}, "legend": null}}},
{"transform": [{"filter": "datum.part==='txt'"}], "mark": {"type": "text", "font": "Liberation Serif", "color": "black"}, "encoding": {"text": {"field": "label"}, "size": {"field": "sty", "type": "nominal", "scale": {"type": "ordinal", "domain": ["xs", "sm", "lab", "md", "big", "head"], "range": [8, 9, 11, 14, 17, 22]}, "legend": null}}},
{"transform": [{"filter": "datum.part==='itxt'"}], "mark": {"type": "text", "font": "Liberation Serif", "fontStyle": "italic", "color": "black"}, "encoding": {"text": {"field": "label"}, "size": {"field": "sty", "type": "nominal", "scale": {"type": "ordinal", "domain": ["xs", "sm", "lab", "md", "big", "head"], "range": [8, 9, 11, 14, 17, 22]}, "legend": null}}}
]},
{"data": {"name": "B3"},
"encoding": {"x": {"field": "t", "type": "quantitative", "scale": {"domain": [-16.18, 7.317], "nice": false, "zero": false}, "axis": null},
"y": {"field": "val", "type": "quantitative", "scale": {"domain": [-3.647, 6.529], "nice": false, "zero": false}, "axis": null}},
"layer": [
{"transform": [{"filter": "datum.part==='seg'"}], "mark": {"type": "rule", "color": "black", "strokeWidth": 1}, "encoding": {"x2": {"field": "t2"}, "y2": {"field": "val2"}}},
{"transform": [{"filter": "datum.part==='sig'"}], "mark": {"type": "line", "color": "black", "strokeWidth": 2}, "encoding": {"order": {"field": "i", "type": "quantitative"}}},
{"transform": [{"filter": "datum.part==='arrowR'||datum.part==='arrowL'||datum.part==='arrowU'"}], "mark": {"type": "point", "filled": true, "color": "black", "opacity": 1, "size": 18}, "encoding": {"shape": {"field": "part", "type": "nominal", "scale": {"domain": ["arrowR", "arrowL", "arrowU"], "range": ["triangle-right", "triangle-left", "triangle-up"]}, "legend": null}}},
{"transform": [{"filter": "datum.part==='txt'"}], "mark": {"type": "text", "font": "Liberation Serif", "color": "black"}, "encoding": {"text": {"field": "label"}, "size": {"field": "sty", "type": "nominal", "scale": {"type": "ordinal", "domain": ["xs", "sm", "lab", "md", "big", "head"], "range": [8, 9, 11, 14, 17, 22]}, "legend": null}}},
{"transform": [{"filter": "datum.part==='itxt'"}], "mark": {"type": "text", "font": "Liberation Serif", "fontStyle": "italic", "color": "black"}, "encoding": {"text": {"field": "label"}, "size": {"field": "sty", "type": "nominal", "scale": {"type": "ordinal", "domain": ["xs", "sm", "lab", "md", "big", "head"], "range": [8, 9, 11, 14, 17, 22]}, "legend": null}}}
]}
]}
], "spacing": 4},
{"hconcat": [
{"width": 290, "height": 174, "resolve": {"scale": {"x": "independent", "y": "independent"}}, "layer": [
{"data": {"name": "C1"},
"encoding": {"x": {"field": "t", "type": "quantitative", "scale": {"domain": [-17.95, 113.86], "nice": false, "zero": false}, "axis": null},
"y": {"field": "val", "type": "quantitative", "scale": {"domain": [-2.294, 2.8235], "nice": false, "zero": false}, "axis": null}},
"layer": [
{"transform": [{"filter": "datum.part==='seg'"}], "mark": {"type": "rule", "color": "black", "strokeWidth": 1}, "encoding": {"x2": {"field": "t2"}, "y2": {"field": "val2"}}},
{"transform": [{"filter": "datum.part==='stem'"}], "mark": {"type": "rule", "color": "black", "strokeWidth": 1.3}, "encoding": {"y2": {"datum": 0}}},
{"transform": [{"filter": "datum.part==='stem'"}], "mark": {"type": "point", "filled": true, "color": "black", "opacity": 1, "size": 5}},
{"transform": [{"filter": "datum.part==='arrowR'||datum.part==='arrowL'||datum.part==='arrowU'"}], "mark": {"type": "point", "filled": true, "color": "black", "opacity": 1, "size": 18}, "encoding": {"shape": {"field": "part", "type": "nominal", "scale": {"domain": ["arrowR", "arrowL", "arrowU"], "range": ["triangle-right", "triangle-left", "triangle-up"]}, "legend": null}}},
{"transform": [{"filter": "datum.part==='txt'"}], "mark": {"type": "text", "font": "Liberation Serif", "color": "black"}, "encoding": {"text": {"field": "label"}, "size": {"field": "sty", "type": "nominal", "scale": {"type": "ordinal", "domain": ["xs", "sm", "lab", "md", "big", "head"], "range": [8, 9, 11, 14, 17, 22]}, "legend": null}}},
{"transform": [{"filter": "datum.part==='itxt'"}], "mark": {"type": "text", "font": "Liberation Serif", "fontStyle": "italic", "color": "black"}, "encoding": {"text": {"field": "label"}, "size": {"field": "sty", "type": "nominal", "scale": {"type": "ordinal", "domain": ["xs", "sm", "lab", "md", "big", "head"], "range": [8, 9, 11, 14, 17, 22]}, "legend": null}}}
]},
{"data": {"name": "C2"},
"encoding": {"x": {"field": "t", "type": "quantitative", "scale": {"domain": [-126.59, 41.04], "nice": false, "zero": false}, "axis": null},
"y": {"field": "val", "type": "quantitative", "scale": {"domain": [-2.75, 2.0833], "nice": false, "zero": false}, "axis": null}},
"layer": [
{"transform": [{"filter": "datum.part==='seg'"}], "mark": {"type": "rule", "color": "black", "strokeWidth": 1}, "encoding": {"x2": {"field": "t2"}, "y2": {"field": "val2"}}},
{"transform": [{"filter": "datum.part==='stem'"}], "mark": {"type": "rule", "color": "#444", "strokeWidth": 1.3}, "encoding": {"y2": {"datum": 0}}},
{"transform": [{"filter": "datum.part==='stem'"}], "mark": {"type": "point", "filled": true, "color": "black", "opacity": 1, "size": 5}},
{"transform": [{"filter": "datum.part==='arrowR'||datum.part==='arrowL'||datum.part==='arrowU'"}], "mark": {"type": "point", "filled": true, "color": "black", "opacity": 1, "size": 18}, "encoding": {"shape": {"field": "part", "type": "nominal", "scale": {"domain": ["arrowR", "arrowL", "arrowU"], "range": ["triangle-right", "triangle-left", "triangle-up"]}, "legend": null}}},
{"transform": [{"filter": "datum.part==='txt'"}], "mark": {"type": "text", "font": "Liberation Serif", "color": "black"}, "encoding": {"text": {"field": "label"}, "size": {"field": "sty", "type": "nominal", "scale": {"type": "ordinal", "domain": ["xs", "sm", "lab", "md", "big", "head"], "range": [8, 9, 11, 14, 17, 22]}, "legend": null}}},
{"transform": [{"filter": "datum.part==='itxt'"}], "mark": {"type": "text", "font": "Liberation Serif", "fontStyle": "italic", "color": "black"}, "encoding": {"text": {"field": "label"}, "size": {"field": "sty", "type": "nominal", "scale": {"type": "ordinal", "domain": ["xs", "sm", "lab", "md", "big", "head"], "range": [8, 9, 11, 14, 17, 22]}, "legend": null}}}
]},
{"data": {"name": "C3"},
"encoding": {"x": {"field": "t", "type": "quantitative", "scale": {"domain": [-126.59, 41.04], "nice": false, "zero": false}, "axis": null},
"y": {"field": "val", "type": "quantitative", "scale": {"domain": [-3.1765, 7.0588], "nice": false, "zero": false}, "axis": null}},
"layer": [
{"transform": [{"filter": "datum.part==='seg'"}], "mark": {"type": "rule", "color": "black", "strokeWidth": 1}, "encoding": {"x2": {"field": "t2"}, "y2": {"field": "val2"}}},
{"transform": [{"filter": "datum.part==='stem'"}], "mark": {"type": "rule", "color": "#444", "strokeWidth": 1.5}, "encoding": {"y2": {"datum": 0}}},
{"transform": [{"filter": "datum.part==='arrowR'||datum.part==='arrowL'||datum.part==='arrowU'"}], "mark": {"type": "point", "filled": true, "color": "black", "opacity": 1, "size": 18}, "encoding": {"shape": {"field": "part", "type": "nominal", "scale": {"domain": ["arrowR", "arrowL", "arrowU"], "range": ["triangle-right", "triangle-left", "triangle-up"]}, "legend": null}}},
{"transform": [{"filter": "datum.part==='txt'"}], "mark": {"type": "text", "font": "Liberation Serif", "color": "black"}, "encoding": {"text": {"field": "label"}, "size": {"field": "sty", "type": "nominal", "scale": {"type": "ordinal", "domain": ["xs", "sm", "lab", "md", "big", "head"], "range": [8, 9, 11, 14, 17, 22]}, "legend": null}}},
{"transform": [{"filter": "datum.part==='itxt'"}], "mark": {"type": "text", "font": "Liberation Serif", "fontStyle": "italic", "color": "black"}, "encoding": {"text": {"field": "label"}, "size": {"field": "sty", "type": "nominal", "scale": {"type": "ordinal", "domain": ["xs", "sm", "lab", "md", "big", "head"], "range": [8, 9, 11, 14, 17, 22]}, "legend": null}}}
]}
]},
{"width": 289, "height": 174, "resolve": {"scale": {"x": "independent", "y": "independent"}}, "layer": [
{"data": {"name": "D1"},
"encoding": {"x": {"field": "t", "type": "quantitative", "scale": {"domain": [-9.34, 33.99], "nice": false, "zero": false}, "axis": null},
"y": {"field": "val", "type": "quantitative", "scale": {"domain": [-1.857, 3.114], "nice": false, "zero": false}, "axis": null}},
"layer": [
{"transform": [{"filter": "datum.part==='seg'"}], "mark": {"type": "rule", "color": "black", "strokeWidth": 1}, "encoding": {"x2": {"field": "t2"}, "y2": {"field": "val2"}}},
{"transform": [{"filter": "datum.part==='stem'"}], "mark": {"type": "rule", "color": "black", "strokeWidth": 2}, "encoding": {"y2": {"datum": 0}}},
{"transform": [{"filter": "datum.part==='stem'"}], "mark": {"type": "point", "filled": true, "color": "black", "opacity": 1, "size": 14}},
{"transform": [{"filter": "datum.part==='arrowR'||datum.part==='arrowL'||datum.part==='arrowU'"}], "mark": {"type": "point", "filled": true, "color": "black", "opacity": 1, "size": 18}, "encoding": {"shape": {"field": "part", "type": "nominal", "scale": {"domain": ["arrowR", "arrowL", "arrowU"], "range": ["triangle-right", "triangle-left", "triangle-up"]}, "legend": null}}},
{"transform": [{"filter": "datum.part==='txt'"}], "mark": {"type": "text", "font": "Liberation Serif", "color": "black"}, "encoding": {"text": {"field": "label"}, "size": {"field": "sty", "type": "nominal", "scale": {"type": "ordinal", "domain": ["xs", "sm", "lab", "md", "big", "head"], "range": [8, 9, 11, 14, 17, 22]}, "legend": null}}},
{"transform": [{"filter": "datum.part==='itxt'"}], "mark": {"type": "text", "font": "Liberation Serif", "fontStyle": "italic", "color": "black"}, "encoding": {"text": {"field": "label"}, "size": {"field": "sty", "type": "nominal", "scale": {"type": "ordinal", "domain": ["xs", "sm", "lab", "md", "big", "head"], "range": [8, 9, 11, 14, 17, 22]}, "legend": null}}}
]},
{"data": {"name": "D2"},
"encoding": {"x": {"field": "t", "type": "quantitative", "scale": {"domain": [-7.627, 3.488], "nice": false, "zero": false}, "axis": null},
"y": {"field": "val", "type": "quantitative", "scale": {"domain": [-3.719, 1.719], "nice": false, "zero": false}, "axis": null}},
"layer": [
{"transform": [{"filter": "datum.part==='seg'"}], "mark": {"type": "rule", "color": "black", "strokeWidth": 1}, "encoding": {"x2": {"field": "t2"}, "y2": {"field": "val2"}}},
{"transform": [{"filter": "datum.part==='crv'"}], "mark": {"type": "line", "color": "black", "strokeWidth": 2, "interpolate": "monotone"}},
{"transform": [{"filter": "datum.part==='arrowR'||datum.part==='arrowL'||datum.part==='arrowU'"}], "mark": {"type": "point", "filled": true, "color": "black", "opacity": 1, "size": 18}, "encoding": {"shape": {"field": "part", "type": "nominal", "scale": {"domain": ["arrowR", "arrowL", "arrowU"], "range": ["triangle-right", "triangle-left", "triangle-up"]}, "legend": null}}},
{"transform": [{"filter": "datum.part==='txt'"}], "mark": {"type": "text", "font": "Liberation Serif", "color": "black"}, "encoding": {"text": {"field": "label"}, "size": {"field": "sty", "type": "nominal", "scale": {"type": "ordinal", "domain": ["xs", "sm", "lab", "md", "big", "head"], "range": [8, 9, 11, 14, 17, 22]}, "legend": null}}},
{"transform": [{"filter": "datum.part==='itxt'"}], "mark": {"type": "text", "font": "Liberation Serif", "fontStyle": "italic", "color": "black"}, "encoding": {"text": {"field": "label"}, "size": {"field": "sty", "type": "nominal", "scale": {"type": "ordinal", "domain": ["xs", "sm", "lab", "md", "big", "head"], "range": [8, 9, 11, 14, 17, 22]}, "legend": null}}}
]},
{"data": {"name": "D3"},
"encoding": {"x": {"field": "t", "type": "quantitative", "scale": {"domain": [-7.627, 3.488], "nice": false, "zero": false}, "axis": null},
"y": {"field": "val", "type": "quantitative", "scale": {"domain": [-2.588, 7.647], "nice": false, "zero": false}, "axis": null}},
"layer": [
{"transform": [{"filter": "datum.part==='seg'"}], "mark": {"type": "rule", "color": "black", "strokeWidth": 1}, "encoding": {"x2": {"field": "t2"}, "y2": {"field": "val2"}}},
{"transform": [{"filter": "datum.part==='sig'"}], "mark": {"type": "line", "color": "black", "strokeWidth": 2}, "encoding": {"order": {"field": "i", "type": "quantitative"}}},
{"transform": [{"filter": "datum.part==='arrowR'||datum.part==='arrowL'||datum.part==='arrowU'"}], "mark": {"type": "point", "filled": true, "color": "black", "opacity": 1, "size": 18}, "encoding": {"shape": {"field": "part", "type": "nominal", "scale": {"domain": ["arrowR", "arrowL", "arrowU"], "range": ["triangle-right", "triangle-left", "triangle-up"]}, "legend": null}}},
{"transform": [{"filter": "datum.part==='txt'"}], "mark": {"type": "text", "font": "Liberation Serif", "color": "black"}, "encoding": {"text": {"field": "label"}, "size": {"field": "sty", "type": "nominal", "scale": {"type": "ordinal", "domain": ["xs", "sm", "lab", "md", "big", "head"], "range": [8, 9, 11, 14, 17, 22]}, "legend": null}}},
{"transform": [{"filter": "datum.part==='itxt'"}], "mark": {"type": "text", "font": "Liberation Serif", "fontStyle": "italic", "color": "black"}, "encoding": {"text": {"field": "label"}, "size": {"field": "sty", "type": "nominal", "scale": {"type": "ordinal", "domain": ["xs", "sm", "lab", "md", "big", "head"], "range": [8, 9, 11, 14, 17, 22]}, "legend": null}}}
]}
]}
], "spacing": 4}
],
"spacing": 4
}
